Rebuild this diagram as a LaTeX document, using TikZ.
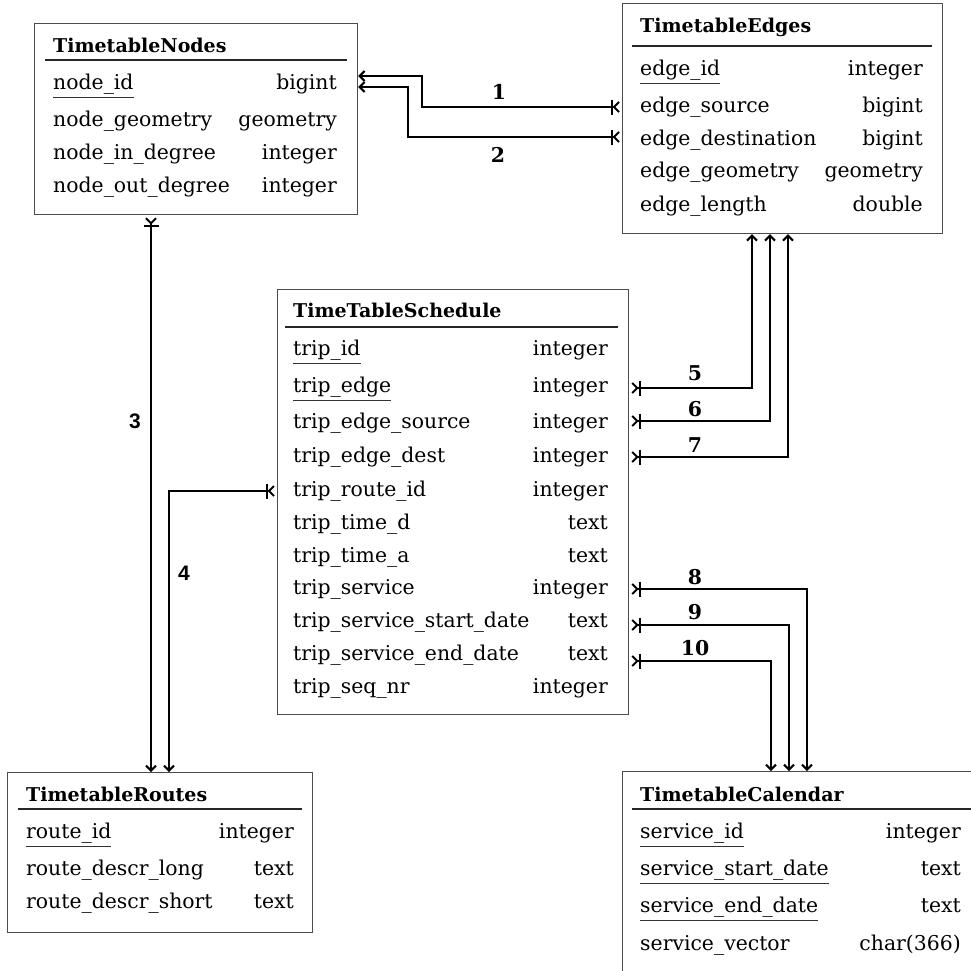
\documentclass[tikz,border=0pt]{standalone}
\usepackage{fontspec}
\setmainfont{DejaVu Serif}
\newfontfamily\lblsans{Liberation Sans}
\usetikzlibrary{arrows.meta}
\newsavebox\pkbox
\newcommand\pkul[1]{\sbox\pkbox{#1}\rlap{\textcolor{black!80}{\rule[-8.5pt]{\wd\pkbox}{1pt}}}\usebox\pkbox}
\tikzset{
  x=1pt, y=-1pt,
  tbl/.style={draw=black!70, line width=1.2pt, inner sep=0pt, anchor=north west},
  ttl/.style={anchor=base west, inner sep=0pt, font=\bfseries\fontsize{19}{23}\selectfont},
  fld/.style={anchor=base west, inner sep=0pt, font=\fontsize{20.4}{24}\selectfont},
  typ/.style={anchor=base east, inner sep=0pt, font=\fontsize{20.4}{24}\selectfont},
  hrule/.style={draw=black!85, line width=1.2pt},
  rel/.style={line width=2pt, {Straight Barb[reversed,length=5pt,width=10pt,sep=2pt]Bar[width=15pt]}-{Straight Barb[length=5pt,width=10pt]}},
  num/.style={inner sep=0pt, font=\bfseries\fontsize{20.4}{24}\selectfont},
  numsans/.style={inner sep=0pt, font=\lblsans\bfseries\fontsize{21}{24}\selectfont},
}
\begin{document}
\begin{tikzpicture}
\useasboundingbox (0,0) rectangle (971,970);
\clip (0,0) rectangle (971,970);
% TimetableNodes
\node[tbl, minimum width=323pt, minimum height=191pt] (N) at (34,23) {};
\node[ttl] (Nt) at (53,52) {TimetableNodes};
\draw[hrule] (45,60) -- (347,60);
\node[fld] (N1) at (53,89) {\pkul{node\_id}};
\node[typ] (N1t) at (337,89) {bigint};
\node[fld] (N2) at (53,126) {node\_geometry};
\node[typ] (N2t) at (337,126) {geometry};
\node[fld] (N3) at (53,159) {node\_in\_degree};
\node[typ] (N3t) at (337,159) {integer};
\node[fld] (N4) at (53,192) {node\_out\_degree};
\node[typ] (N4t) at (337,192) {integer};
% TimetableEdges
\node[tbl, minimum width=320pt, minimum height=230pt] (E) at (622,3) {};
\node[ttl] (Et) at (640,32) {TimetableEdges};
\draw[hrule] (632,46) -- (932,46);
\node[fld] (E1) at (640,75) {\pkul{edge\_id}};
\node[typ] (E1t) at (923,75) {integer};
\node[fld] (E2) at (640,112) {edge\_source};
\node[typ] (E2t) at (923,112) {bigint};
\node[fld] (E3) at (640,145) {edge\_destination};
\node[typ] (E3t) at (923,145) {bigint};
\node[fld] (E4) at (640,177) {edge\_geometry};
\node[typ] (E4t) at (923,177) {geometry};
\node[fld] (E5) at (640,211) {edge\_length};
\node[typ] (E5t) at (923,211) {double};
% TimeTableSchedule
\node[tbl, minimum width=351pt, minimum height=425pt] (S) at (277,289) {};
\node[ttl] (St) at (293,317) {TimeTableSchedule};
\draw[hrule] (285,327) -- (618,327);
\node[fld] (S1) at (293,355) {\pkul{trip\_id}};
\node[typ] (S1t) at (608,355) {integer};
\node[fld] (S2) at (293,392) {\pkul{trip\_edge}};
\node[typ] (S2t) at (608,392) {integer};
\node[fld] (S3) at (293,428) {trip\_edge\_source};
\node[typ] (S3t) at (608,428) {integer};
\node[fld] (S4) at (293,462) {trip\_edge\_dest};
\node[typ] (S4t) at (608,462) {integer};
\node[fld] (S5) at (293,496) {trip\_route\_id};
\node[typ] (S5t) at (608,496) {integer};
\node[fld] (S6) at (293,529) {trip\_time\_d};
\node[typ] (S6t) at (608,529) {text};
\node[fld] (S7) at (293,562) {trip\_time\_a};
\node[typ] (S7t) at (608,562) {text};
\node[fld] (S8) at (293,594) {trip\_service};
\node[typ] (S8t) at (608,594) {integer};
\node[fld] (S9) at (293,627) {trip\_service\_start\_date};
\node[typ] (S9t) at (608,627) {text};
\node[fld] (S10) at (293,660) {trip\_service\_end\_date};
\node[typ] (S10t) at (608,660) {text};
\node[fld] (S11) at (293,693) {trip\_seq\_nr};
\node[typ] (S11t) at (608,693) {integer};
% TimetableRoutes
\node[tbl, minimum width=305pt, minimum height=160pt] (R) at (7,772) {};
\node[ttl] (Rt) at (26,801) {TimetableRoutes};
\draw[hrule] (18,809) -- (302,809);
\node[fld] (R1) at (26,838) {\pkul{route\_id}};
\node[typ] (R1t) at (294,838) {integer};
\node[fld] (R2) at (26,875) {route\_descr\_long};
\node[typ] (R2t) at (294,875) {text};
\node[fld] (R3) at (26,908) {route\_descr\_short};
\node[typ] (R3t) at (294,908) {text};
% TimetableCalendar
\node[tbl, minimum width=380pt, minimum height=240pt] (C) at (622,771) {};
\node[ttl] (Ct) at (640,801) {TimetableCalendar};
\draw[hrule] (632,809) -- (975,809);
\node[fld] (C1) at (640,838) {\pkul{service\_id}};
\node[typ] (C1t) at (961,838) {integer};
\node[fld] (C2) at (640,875) {\pkul{service\_start\_date}};
\node[typ] (C2t) at (961,875) {text};
\node[fld] (C3) at (640,912) {\pkul{service\_end\_date}};
\node[typ] (C3t) at (961,912) {text};
\node[fld] (C4) at (640,950) {service\_vector};
\node[typ] (C4t) at (961,950) {char(366)};
% connectors
\coordinate (b1) at (422,107); \coordinate (b2) at (408,137);
\draw[rel] (E.west |- b1) -- (b1) |- (N.east |- 0,76);
\draw[rel] (E.west |- b2) -- (b2) |- (N.east |- 0,87);
\node[num] (l1) at (499,92) {1};
\node[num] (l2) at (498,155) {2};
\draw[rel] (N.south -| 151,0) -- (R.north -| 151,0);
\node[numsans] (l3) at (135,421) {3};
\coordinate (b4) at (169,491);
\draw[rel] (S.west |- b4) -| (R.north -| b4);
\node[numsans] (l4) at (184,573) {4};
\coordinate (b5) at (752,388); \coordinate (b6) at (770,421); \coordinate (b7) at (788,457);
\draw[rel] (S.east |- b5) -| (E.south -| b5);
\draw[rel] (S.east |- b6) -| (E.south -| b6);
\draw[rel] (S.east |- b7) -| (E.south -| b7);
\node[num] (l5) at (695,373) {5};
\node[num] (l6) at (695,409) {6};
\node[num] (l7) at (695,445) {7};
\coordinate (b8) at (807,589); \coordinate (b9) at (789,625); \coordinate (b10) at (771,661);
\draw[rel] (S.east |- b8) -| (C.north -| b8);
\draw[rel] (S.east |- b9) -| (C.north -| b9);
\draw[rel] (S.east |- b10) -| (C.north -| b10);
\node[num] (l8) at (695,577) {8};
\node[num] (l9) at (695,612) {9};
\node[num] (l10) at (695,648) {10};
\end{tikzpicture}
\end{document}
